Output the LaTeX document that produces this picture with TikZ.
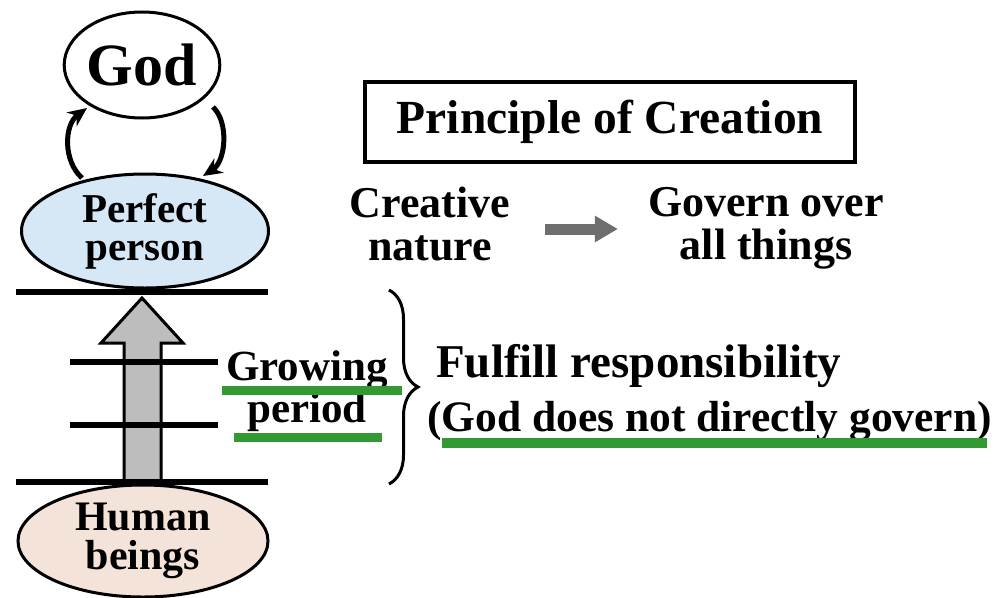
\documentclass[tikz,border=0pt]{standalone}
\usepackage{fontspec}
\setmainfont{Liberation Serif}
\usetikzlibrary{shapes.geometric,arrows.meta,decorations.pathreplacing,calc}
\definecolor{ppblue}{HTML}{D6E7F6}
\definecolor{hbpeach}{HTML}{F4E3D9}
\definecolor{biggray}{HTML}{BDBDBD}
\definecolor{darkgray}{HTML}{6E6E6E}
\definecolor{ulgreen}{HTML}{339933}
\begin{document}
\begin{tikzpicture}[x=1pt,y=1pt,
  ell/.style={ellipse,draw=black,line width=3pt,inner sep=0pt,align=center},
  txt/.style={inner sep=0pt,font=\bfseries\fontsize{44}{43}\selectfont},
  hline/.style={line width=6pt,black},
  ulbar/.style={line width=9pt,ulgreen},
  cycarrow/.style={line width=5pt,-{Stealth[length=19pt,width=17pt]}}
]
\useasboundingbox[fill=white] (0,-597) rectangle (1000,0);
% big arrow
\filldraw[fill=biggray,draw=black,line width=3pt,line join=miter]
  (124,-482) -- (124,-343) -- (101,-343) -- (142,-298) -- (183,-343) -- (161,-343) -- (161,-482) -- cycle;
% ellipses
\node[ell,minimum width=155pt,minimum height=106pt,font=\bfseries\fontsize{60}{60}\selectfont] (god) at (142,-65) {God};
\node[ell,fill=ppblue,minimum width=247pt,minimum height=114pt,font=\bfseries\fontsize{41}{38}\selectfont] (pp) at (145,-231) {Perfect\\person};
\node[ell,fill=hbpeach,minimum width=250pt,minimum height=112pt,font=\bfseries\fontsize{42}{39}\selectfont] (hb) at (143,-541) {Human\\beings};
% level lines
\draw[hline] (16,-292) -- (268,-292);
\draw[hline] (70,-362) -- (218,-362);
\draw[hline] (70,-425) -- (218,-425);
\draw[hline] (16,-482) -- (268,-482);
% cycle arrows
\draw[cycarrow] ($(pp.center)+(-63,53)$) .. controls ($(pp.center)+(-82,70)$) and ($(god.center)+(-78,-60)$) .. ($(god.center)+(-55,-43)$);
\draw[cycarrow] ($(god.center)+(71,-42)$) .. controls ($(god.center)+(87,-57)$) and ($(pp.center)+(81,70)$) .. ($(pp.center)+(58,55)$);
% growing period
\node[txt,align=center,font=\bfseries\fontsize{43}{42}\selectfont] (gp) at (307,-391) {Growing\\period};
\draw[ulbar] (222,-390) -- (402,-390);
\draw[ulbar] (234,-437) -- (382,-437);
% brace
\draw[line width=3pt,decorate,decoration={brace,amplitude=29pt}] (389,-290) -- (389,-484);
\node[txt,anchor=base west,font=\bfseries\fontsize{47}{47}\selectfont] (fr) at (436,-377) {Fulfill responsibility};
\node[txt,anchor=base west,font=\bfseries\fontsize{43.5}{43}\selectfont] (gd) at (427,-431) {(God does not directly govern)};
\draw[line width=10pt,ulgreen] (442,-443) -- (987,-443);
% principle box
\node[draw=black,line width=4pt,minimum width=490pt,minimum height=80pt,inner sep=0pt,font=\bfseries\fontsize{47.5}{47}\selectfont] (pc) at (610,-122) {Principle of Creation};
\node[txt,align=center] (cn) at (430,-224) {Creative\\nature};
\node[txt,align=center] (go) at (766,-228) {Govern over\\all things};
\draw[line width=11pt,darkgray,-{Triangle[length=23pt,width=25pt]},shorten <=35pt,shorten >=30pt] ([yshift=-5pt]cn.east) -- ([yshift=-1pt]go.west);
\end{tikzpicture}
\end{document}
